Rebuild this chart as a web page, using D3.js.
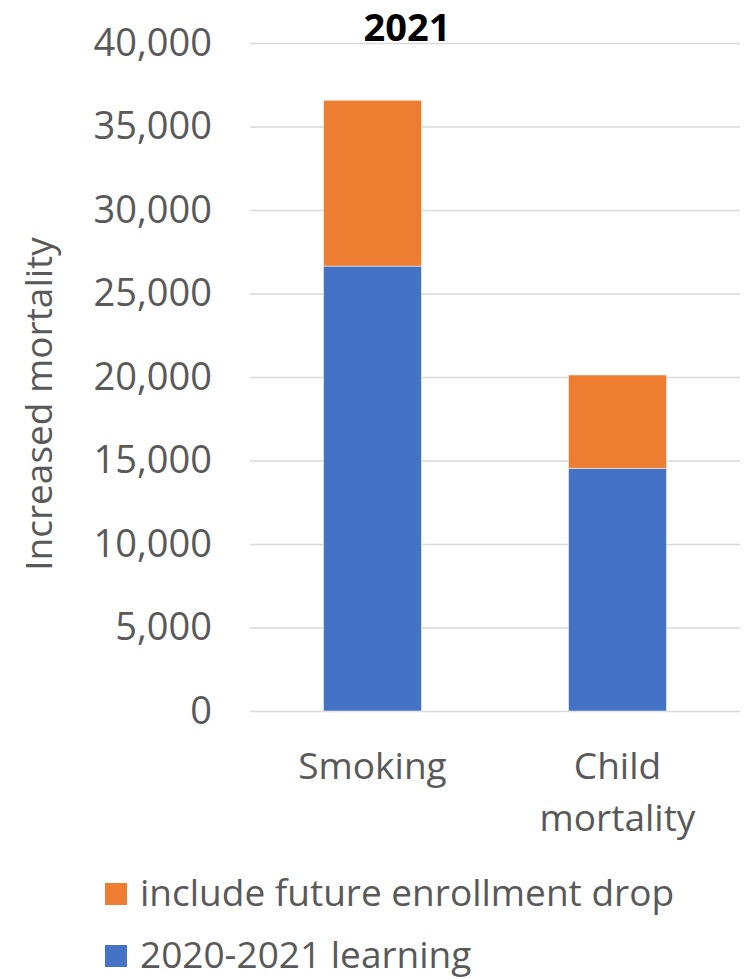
<!DOCTYPE html>
<html>
<head>
<meta charset="utf-8">
<script src="https://cdn.jsdelivr.net/npm/d3@7"></script>
<style>
  body { margin: 0; background: #fff; }
  text { font-family: "Open Sans", sans-serif; fill: #595959; }
  .axis path { display: none; }
  .axis line { stroke: #d9d9d9; stroke-width: 1.5; }
  .axis text { font-size: 38px; fill: #595959; }
</style>
</head>
<body>
<div id="vis"></div>
<script>
var categories = ['Smoking', 'Child mortality'];
var learning = [26640, 14530];        // 2020-2021 learning
var enrollment = [9930, 5590];        // include future enrollment drop
var yTicks = [0, 5000, 10000, 15000, 20000, 25000, 30000, 35000, 40000];
var seriesNames = ['include future enrollment drop', '2020-2021 learning'];
var colors = ['#ed7d31', '#4472c4'];

var width = 756;
var height = 979;
var margin = { top: 43, right: 16, bottom: 268, left: 250 };
var drawWidth = width - margin.left - margin.right;
var drawHeight = height - margin.top - margin.bottom;

var svg = d3.select('#vis')
            .append('svg')
            .attr('width', width)
            .attr('height', height);

var g = svg.append('g')
           .attr('transform', 'translate(' + margin.left + ',' + margin.top + ')');

var xScale = d3.scaleBand()
               .domain(categories)
               .range([0, drawWidth])
               .paddingInner(0.6)
               .paddingOuter(0.3);

var yScale = d3.scaleLinear()
               .domain([0, 40000])
               .range([drawHeight, 0]);

// gridlines + tick labels
var yAxis = d3.axisLeft(yScale)
              .tickValues(yTicks)
              .tickSize(-drawWidth)
              .tickPadding(38)
              .tickFormat(d3.format(','));
g.append('g')
 .attr('class', 'axis')
 .call(yAxis);

// stacked bars
var stacked = categories.map(function(c, i) {
    return { cat: c, learning: learning[i], enrollment: enrollment[i] };
});

g.selectAll('.bar-learning')
 .data(stacked)
 .enter().append('rect')
 .attr('class', 'bar-learning')
 .attr('x', function(d) { return xScale(d.cat); })
 .attr('width', xScale.bandwidth())
 .attr('y', function(d) { return yScale(d.learning); })
 .attr('height', function(d) { return yScale(0) - yScale(d.learning); })
 .attr('fill', colors[1])
 .attr('stroke', '#fff')
 .attr('stroke-opacity', 0.5)
 .attr('stroke-width', 1);

g.selectAll('.bar-enroll')
 .data(stacked)
 .enter().append('rect')
 .attr('class', 'bar-enroll')
 .attr('x', function(d) { return xScale(d.cat); })
 .attr('width', xScale.bandwidth())
 .attr('y', function(d) { return yScale(d.learning + d.enrollment); })
 .attr('height', function(d) { return yScale(d.learning) - yScale(d.learning + d.enrollment); })
 .attr('fill', colors[0])
 .attr('stroke', '#fff')
 .attr('stroke-opacity', 0.5)
 .attr('stroke-width', 1);

// category labels (wrapped)
var xLabels = { 'Smoking': ['Smoking'], 'Child mortality': ['Child', 'mortality'] };
categories.forEach(function(c) {
    var t = g.append('text')
             .attr('x', xScale(c) + xScale.bandwidth() / 2)
             .attr('y', drawHeight + 68)
             .attr('text-anchor', 'middle')
             .style('font-size', '37px');
    xLabels[c].forEach(function(line, i) {
        t.append('tspan')
         .attr('x', xScale(c) + xScale.bandwidth() / 2)
         .attr('dy', i === 0 ? 0 : 52)
         .text(line);
    });
});

// title
svg.append('text')
   .attr('x', 407)
   .attr('y', 41)
   .attr('text-anchor', 'middle')
   .style('font-size', '38px')
   .style('font-weight', 'bold')
   .style('fill', '#000')
   .text('2021');

// y axis label
svg.append('text')
   .attr('transform', 'translate(52,' + (margin.top + drawHeight / 2 + 27) + ') rotate(-90)')
   .attr('text-anchor', 'middle')
   .style('font-size', '37px')
   .text('Increased mortality');

// legend
var legend = svg.selectAll('.legend')
                .data(seriesNames)
                .enter().append('g')
                .attr('class', 'legend')
                .attr('transform', function(d, i) { return 'translate(105,' + (883 + i * 62) + ')'; });
legend.append('rect')
      .attr('width', 22)
      .attr('height', 22)
      .attr('fill', function(d, i) { return colors[i]; });
legend.append('text')
      .attr('x', 35)
      .attr('y', 23)
      .style('font-size', '37px')
      .text(function(d) { return d; });
</script>
</body>
</html>
